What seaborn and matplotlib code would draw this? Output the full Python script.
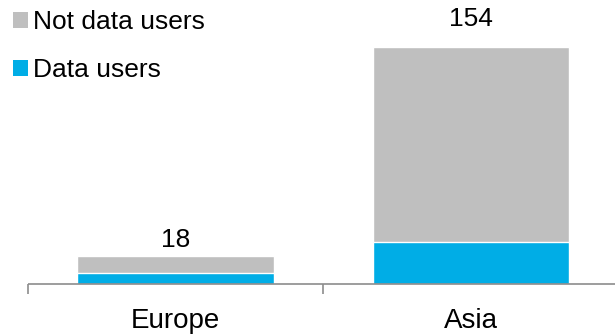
import matplotlib
matplotlib.use("Agg")
import matplotlib.pyplot as plt
import seaborn as sns
import pandas as pd
from matplotlib.patches import Patch

regions = ["Europe", "Asia"]
data_users = [7, 27]
not_data_users = [11, 127]
totals = [d + n for d, n in zip(data_users, not_data_users)]
total_labels = ["18", "154"]
label_offsets_pt = [3.3, 11]

gray = "#BFBFBF"
blue = "#00ADE6"

sns.set_theme(style="white")
plt.rcParams["font.family"] = ["Liberation Sans", "DejaVu Sans"]
plt.rcParams["text.color"] = "black"
plt.rcParams["xtick.labelcolor"] = "black"

df = pd.DataFrame({"region": regions, "data": data_users, "total": totals})

fig = plt.figure(figsize=(6.15, 3.34), dpi=100)
# axes extends slightly beyond the right figure edge (chart is cropped there)
ax = fig.add_axes([28 / 615, 50 / 334, 602 / 615, 284 / 334])

sns.barplot(data=df, x="region", y="total", color=gray, width=0.665,
            saturation=1, errorbar=None, ax=ax)
sns.barplot(data=df, x="region", y="data", color=blue, width=0.665,
            saturation=1, errorbar=None, ax=ax)

for i, (t, lab, off) in enumerate(zip(totals, total_labels, label_offsets_pt)):
    ax.annotate(lab, (i, t), xytext=(0, off), textcoords="offset points",
                ha="center", va="bottom", fontsize=19, color="black")

ax.set_xlim(-0.5, 1.54)
ax.set_ylim(0, 184.3)
ax.set_xlabel("")
ax.set_ylabel("")
ax.set_yticks([])
for s in ["top", "right", "left"]:
    ax.spines[s].set_visible(False)
ax.spines["bottom"].set_color("#8C8C8C")
ax.spines["bottom"].set_linewidth(1.2)
ax.spines["bottom"].set_capstyle("butt")

ax.set_xticks([0, 1])
ax.set_xticklabels(regions, fontsize=20, color="black")
ax.tick_params(axis="x", which="major", length=0, pad=17)
ax.set_xticks([-0.5, 0.5, 1.5], minor=True)
ax.tick_params(axis="x", which="minor", length=7, width=1.2, color="#8C8C8C",
               direction="out", bottom=True, top=False)

handles = [Patch(facecolor=gray, edgecolor="none", label="Not data users"),
           Patch(facecolor=blue, edgecolor="none", label="Data users")]
fig.legend(handles=handles, loc="upper left", bbox_to_anchor=(13 / 615, 1 - 10 / 334),
           frameon=False, fontsize=19, handlelength=0.55, handleheight=0.55,
           handletextpad=0.2, labelspacing=0.92, borderaxespad=0, borderpad=0,
           labelcolor="black")

fig.savefig("out.png", dpi=100)
